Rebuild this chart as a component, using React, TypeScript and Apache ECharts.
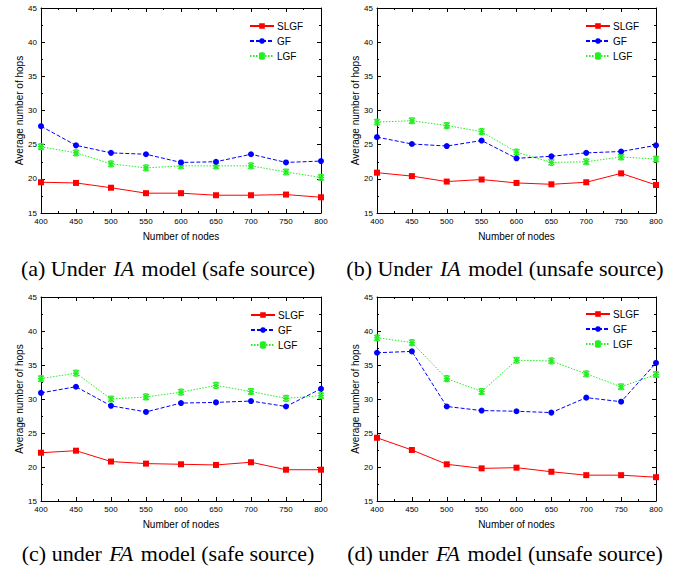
import React, { useEffect, useRef } from "react";
import * as echarts from "echarts";

const nodes = [400, 450, 500, 550, 600, 650, 700, 750, 800];
const seriesNames = ["SLGF", "GF", "LGF"];

const aSLGF = [19.5, 19.4, 18.7, 17.9, 17.9, 17.6, 17.6, 17.7, 17.3];
const aGF = [27.7, 24.9, 23.8, 23.6, 22.4, 22.5, 23.6, 22.4, 22.6];
const aLGF = [24.7, 23.8, 22.2, 21.6, 21.9, 21.9, 21.9, 21.0, 20.2];

const bSLGF = [20.9, 20.4, 19.6, 19.9, 19.4, 19.2, 19.5, 20.8, 19.1];
const bGF = [26.1, 25.1, 24.8, 25.6, 23.0, 23.3, 23.8, 24.0, 24.9];
const bLGF = [28.3, 28.5, 27.8, 26.9, 23.9, 22.4, 22.5, 23.2, 22.9];

const cSLGF = [22.1, 22.4, 20.8, 20.5, 20.4, 20.3, 20.7, 19.6, 19.6];
const cGF = [30.9, 31.8, 29.0, 28.1, 29.4, 29.5, 29.7, 28.9, 31.5];
const cLGF = [33.0, 33.8, 30.0, 30.3, 31.0, 32.0, 31.1, 30.1, 30.5];

const dSLGF = [24.3, 22.5, 20.4, 19.8, 19.9, 19.3, 18.8, 18.8, 18.5];
const dGF = [36.8, 37.0, 28.9, 28.3, 28.2, 28.0, 30.2, 29.6, 35.3];
const dLGF = [39.0, 38.3, 33.0, 31.1, 35.7, 35.6, 33.7, 31.8, 33.6];

const xTitle = "Number of nodes";
const yTitle = "Average number of hops";

const captions = [
  "(a) Under {i|IA} model (safe source)",
  "(b) Under {i|IA} model (unsafe source)",
  "(c) under {i|FA} model (safe source)",
  "(d) under {i|FA} model (unsafe source)",
];

const panelData = [
  [aSLGF, aGF, aLGF],
  [bSLGF, bGF, bLGF],
  [cSLGF, cGF, cLGF],
  [dSLGF, dGF, dLGF],
];

const layout = [
  { grid: { left: 41, top: 8, width: 280, height: 205 }, legend: { left: 249, top: 21 }, cap: { x: 168, y: 268 } },
  { grid: { left: 377, top: 8, width: 279, height: 205 }, legend: { left: 585, top: 21 }, cap: { x: 505, y: 268 } },
  { grid: { left: 41, top: 297, width: 280, height: 204 }, legend: { left: 250, top: 310 }, cap: { x: 168, y: 553 } },
  { grid: { left: 377, top: 297, width: 279, height: 204 }, legend: { left: 585, top: 309 }, cap: { x: 505, y: 553 } },
];

const SANS = "Liberation Sans";
const SERIF = "Liberation Serif";
const STAR = "path://M0,0L10,10M10,0L0,10M5,0L5,10M0,5L10,5M2,0L8,0M2,10L8,10";

const styles = [
  { color: "#ff0000", type: "solid", symbol: "rect", size: 6 },
  { color: "#0000ff", type: [4, 2], symbol: "circle", size: 6 },
  { color: "#22ee22", type: [1.5, 1.5], symbol: STAR, size: 6 },
];

function buildOption() {
  const xAxis: any[] = [];
  const yAxis: any[] = [];
  const series: any[] = [];
  const legend: any[] = [];
  const graphic: any[] = [];
  const axisLine = { show: true, onZero: false, lineStyle: { color: "#000", width: 1 } };
  const tick = { show: true, inside: true, length: 4, lineStyle: { color: "#000", width: 1 } };
  const minor = { show: true, splitNumber: 2, length: 2, lineStyle: { color: "#000", width: 1 } };

  layout.forEach((p, i) => {
    xAxis.push({
      type: "value", gridIndex: i, min: 400, max: 800, interval: 50, position: "bottom",
      axisLine, axisTick: tick, minorTick: minor, splitLine: { show: false },
      axisLabel: { color: "#000", fontSize: 8, fontFamily: SANS, margin: 4 },
      name: xTitle, nameLocation: "middle", nameGap: 18,
      nameTextStyle: { color: "#000", fontSize: 10, fontFamily: SANS },
    });
    yAxis.push({
      type: "value", gridIndex: i, min: 15, max: 45, interval: 5, position: "left",
      axisLine, axisTick: tick, minorTick: minor, splitLine: { show: false },
      axisLabel: { color: "#000", fontSize: 8, fontFamily: SANS, margin: 4 },
      name: yTitle, nameLocation: "middle", nameGap: 17,
      nameTextStyle: { color: "#000", fontSize: 10, fontFamily: SANS },
    });
  });
  layout.forEach((p, i) => {
    xAxis.push({
      type: "value", gridIndex: i, min: 400, max: 800, interval: 50, position: "top",
      axisLine, axisTick: tick, minorTick: minor, splitLine: { show: false },
      axisLabel: { show: false },
    });
    yAxis.push({
      type: "value", gridIndex: i, min: 15, max: 45, interval: 5, position: "right",
      axisLine, axisTick: tick, minorTick: minor, splitLine: { show: false },
      axisLabel: { show: false },
    });
  });

  layout.forEach((p, i) => {
    panelData[i].forEach((vals, k) => {
      const s = styles[k];
      series.push({
        type: "line",
        name: seriesNames[k],
        xAxisIndex: i,
        yAxisIndex: i,
        data: nodes.map((n, j) => [n, vals[j]]),
        symbol: s.symbol,
        symbolSize: s.size,
        showAllSymbol: true,
        lineStyle: { color: s.color, width: 1, type: s.type },
        itemStyle: { color: s.color, borderColor: s.color, borderWidth: k === 2 ? 1.2 : 0 },
        emphasis: { disabled: true },
        z: 3 - k + 2,
      });
    });
    legend.push({
      left: p.legend.left, top: p.legend.top, orient: "vertical",
      data: seriesNames, itemWidth: 24, itemHeight: 7, itemGap: 5,
      selectedMode: false,
      textStyle: { color: "#000", fontSize: 10, fontFamily: SANS, padding: [0, 0, 0, -2] },
      padding: 0,
    });
    graphic.push({
      type: "text",
      x: p.cap.x,
      y: p.cap.y,
      style: {
        text: captions[i],
        fontFamily: SERIF,
        fontSize: 22,
        fill: "#000",
        align: "center",
        verticalAlign: "middle",
        rich: { i: { fontStyle: "italic", fontFamily: SERIF, fontSize: 22, fill: "#000", padding: [0, 2, 0, 2] } },
      },
    });
  });

  return {
    animation: false,
    backgroundColor: "#fff",
    grid: layout.map((p) => ({ ...p.grid, containLabel: false })),
    xAxis,
    yAxis,
    series,
    legend,
    graphic,
  };
}

export default function App() {
  const ref = useRef<HTMLDivElement>(null);
  useEffect(() => {
    document.body.style.margin = "0";
    const chart = echarts.init(ref.current!, null, { renderer: "svg" });
    chart.setOption(buildOption() as any);
    return () => chart.dispose();
  }, []);
  return <div ref={ref} style={{ position: "absolute", left: 0, top: 0, width: 683, height: 574 }} />;
}
